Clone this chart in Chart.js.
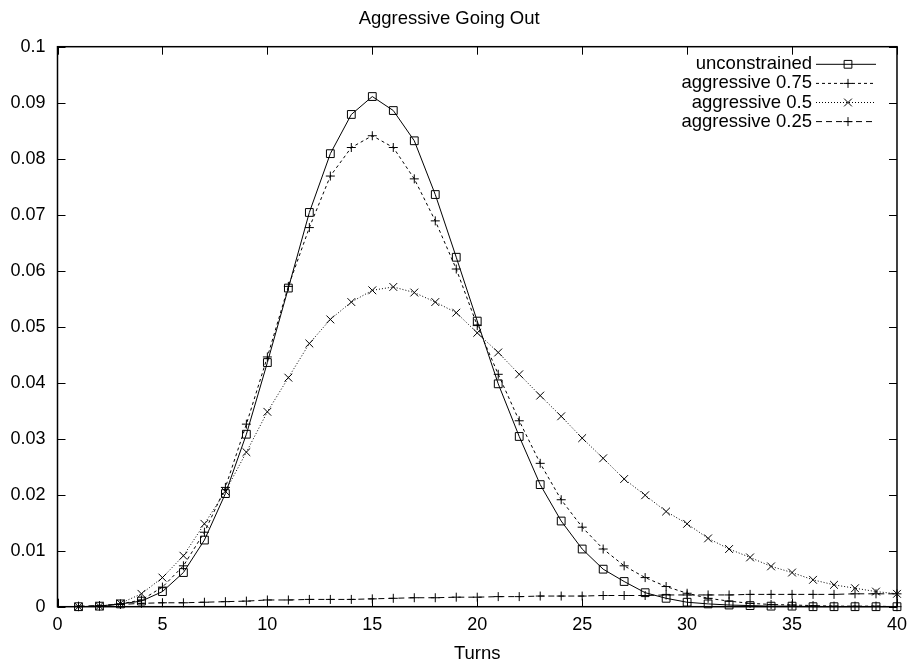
<!DOCTYPE html>
<html>
<head>
<meta charset="utf-8">
<script src="https://cdn.jsdelivr.net/npm/chart.js@4.4.1/dist/chart.umd.min.js"></script>
<style>
  body { margin: 0; background: #fff; }
  canvas { display: block; }
</style>
</head>
<body>
<canvas id="chart" width="915" height="666"></canvas>
<script>
// Data
var turns = [1, 2, 3, 4, 5, 6, 7, 8, 9, 10, 11, 12, 13, 14, 15, 16, 17, 18, 19, 20,
             21, 22, 23, 24, 25, 26, 27, 28, 29, 30, 31, 32, 33, 34, 35, 36, 37, 38, 39, 40]

var unconstrained = [0.0000, 0.0001, 0.0005, 0.0010, 0.0027, 0.0061, 0.0119, 0.0202, 0.0308, 0.0436,
                     0.0569, 0.0704, 0.0809, 0.0879, 0.0911, 0.0886, 0.0832, 0.0736, 0.0624, 0.0510,
                     0.0398, 0.0304, 0.0218, 0.0153, 0.0103, 0.0067, 0.0045, 0.0025, 0.0015, 0.0008,
                     0.0005, 0.0003, 0.0002, 0.0001, 0.0001, 0.0000, 0.0000, 0.0000, 0.0000, 0.0000]

var aggressive075 = [0.0000, 0.0001, 0.0005, 0.0012, 0.0035, 0.0073, 0.0133, 0.0213, 0.0326, 0.0446,
                     0.0572, 0.0677, 0.0769, 0.0820, 0.0841, 0.0820, 0.0764, 0.0689, 0.0603, 0.0502,
                     0.0415, 0.0332, 0.0256, 0.0191, 0.0142, 0.0103, 0.0073, 0.0052, 0.0036, 0.0024,
                     0.0015, 0.0010, 0.0006, 0.0004, 0.0003, 0.0002, 0.0001, 0.0001, 0.0001, 0.0000]

var aggressive05 = [0.0000, 0.0001, 0.0006, 0.0023, 0.0052, 0.0091, 0.0148, 0.0206, 0.0276, 0.0348,
                    0.0409, 0.0470, 0.0513, 0.0544, 0.0565, 0.0571, 0.0561, 0.0544, 0.0525, 0.0489,
                    0.0454, 0.0415, 0.0377, 0.0340, 0.0301, 0.0265, 0.0228, 0.0199, 0.0170, 0.0148,
                    0.0122, 0.0103, 0.0088, 0.0072, 0.0061, 0.0048, 0.0039, 0.0033, 0.0027, 0.0023]

var aggressive025 = [0.0001, 0.0002, 0.0004, 0.0006, 0.0007, 0.0007, 0.0008, 0.0009, 0.0010, 0.0012,
                     0.0012, 0.0013, 0.0013, 0.0013, 0.0014, 0.0015, 0.0016, 0.0016, 0.0017, 0.0017,
                     0.0018, 0.0018, 0.0019, 0.0019, 0.0019, 0.0020, 0.0020, 0.0020, 0.0021, 0.0021,
                     0.0021, 0.0021, 0.0022, 0.0022, 0.0022, 0.0022, 0.0022, 0.0023, 0.0023, 0.0023]

var seriesNames = ['unconstrained', 'aggressive 0.75', 'aggressive 0.5', 'aggressive 0.25']

var FONT = '"Liberation Sans", Arial, Helvetica, sans-serif'

function points(values) {
    return values.map((v, i) => ({ x: turns[i], y: v }))
}

function makeSet(label, values, pointStyle, radius, dash) {
    return {
        label: label,
        data: points(values),
        borderColor: '#000',
        borderWidth: 1,
        borderDash: dash,
        pointStyle: pointStyle,
        pointRadius: radius,
        pointBorderColor: '#000',
        pointBackgroundColor: 'rgba(0,0,0,0)',
        pointBorderWidth: 1,
        tension: 0,
        fill: false,
        clip: false
    }
}

// Border box with inward ticks on all four sides (gnuplot look)
var framePlugin = {
    id: 'frame',
    beforeDatasetsDraw(chart) {
        var ctx = chart.ctx
        var a = chart.chartArea
        var xs = chart.scales.x
        var ys = chart.scales.y
        ctx.save()
        ctx.strokeStyle = '#000'
        ctx.lineWidth = 1
        ctx.beginPath()
        xs.ticks.forEach(t => {
            var px = Math.round(xs.getPixelForValue(t.value)) + 0.5
            ctx.moveTo(px, a.bottom); ctx.lineTo(px, a.bottom - 8)
            ctx.moveTo(px, a.top); ctx.lineTo(px, a.top + 8)
        })
        ys.ticks.forEach(t => {
            var py = Math.round(ys.getPixelForValue(t.value)) + 0.5
            ctx.moveTo(a.left, py); ctx.lineTo(a.left + 8, py)
            ctx.moveTo(a.right, py); ctx.lineTo(a.right - 8, py)
        })
        ctx.stroke()
        ctx.lineWidth = 1.5
        ctx.strokeRect(a.left, a.top, a.right - a.left, a.bottom - a.top)
        ctx.restore()
    }
}

// Key in the top-right corner: text right-aligned, sample line + marker after it
var keyPlugin = {
    id: 'key',
    afterDraw(chart) {
        var ctx = chart.ctx
        ctx.save()
        ctx.font = '18.5px ' + FONT
        ctx.textAlign = 'right'
        ctx.textBaseline = 'middle'
        chart.data.datasets.forEach((ds, i) => {
            var y = 64.3 + i * 19.1
            ctx.fillStyle = '#000'
            ctx.fillText(ds.label, 812, y)
            ctx.beginPath()
            ctx.setLineDash(ds.borderDash || [])
            ctx.strokeStyle = '#000'
            ctx.lineWidth = 1
            ctx.moveTo(816, y)
            ctx.lineTo(876, y)
            ctx.stroke()
            ctx.setLineDash([])
            ctx.fillStyle = 'rgba(0,0,0,0)'
            Chart.helpers.drawPoint(ctx, {
                pointStyle: ds.pointStyle,
                radius: ds.pointRadius,
                borderWidth: 1,
                rotation: 0
            }, 848, y)
        })
        ctx.restore()
    }
}

new Chart(document.getElementById('chart'), {
    type: 'line',
    data: {
        datasets: [
            makeSet(seriesNames[0], unconstrained, 'rect', 5.5, []),
            makeSet(seriesNames[1], aggressive075, 'cross', 4.5, [3, 3]),
            makeSet(seriesNames[2], aggressive05, 'crossRot', 5.5, [1, 2]),
            makeSet(seriesNames[3], aggressive025, 'cross', 4.5, [6, 4])
        ]
    },
    options: {
        responsive: false,
        animation: false,
        devicePixelRatio: 1,
        layout: { padding: { left: 0, right: 16.7, top: 0, bottom: 0 } },
        plugins: {
            legend: { display: false },
            tooltip: { enabled: false },
            title: {
                display: true,
                text: 'Aggressive Going Out',
                color: '#000',
                font: { family: FONT, size: 18.5, weight: 'normal' },
                padding: { top: 7.5, bottom: 17 }
            }
        },
        scales: {
            x: {
                type: 'linear',
                min: 0,
                max: 40,
                grid: { display: false, drawTicks: false },
                border: { display: false },
                ticks: {
                    stepSize: 5,
                    color: '#000',
                    padding: 8,
                    maxRotation: 0,
                    font: { family: FONT, size: 18 }
                },
                title: {
                    display: true,
                    text: 'Turns',
                    color: '#000',
                    font: { family: FONT, size: 18.5 },
                    padding: { top: 0, bottom: 1 }
                },
                afterFit: s => { s.height = 59.3 }
            },
            y: {
                min: 0,
                max: 0.1,
                grid: { display: false, drawTicks: false },
                border: { display: false },
                ticks: {
                    stepSize: 0.01,
                    color: '#000',
                    padding: 12,
                    font: { family: FONT, size: 18 },
                    callback: v => String(+v.toFixed(2))
                },
                afterFit: s => { s.width = 57.5 }
            }
        }
    },
    plugins: [framePlugin, keyPlugin]
})
</script>
</body>
</html>
